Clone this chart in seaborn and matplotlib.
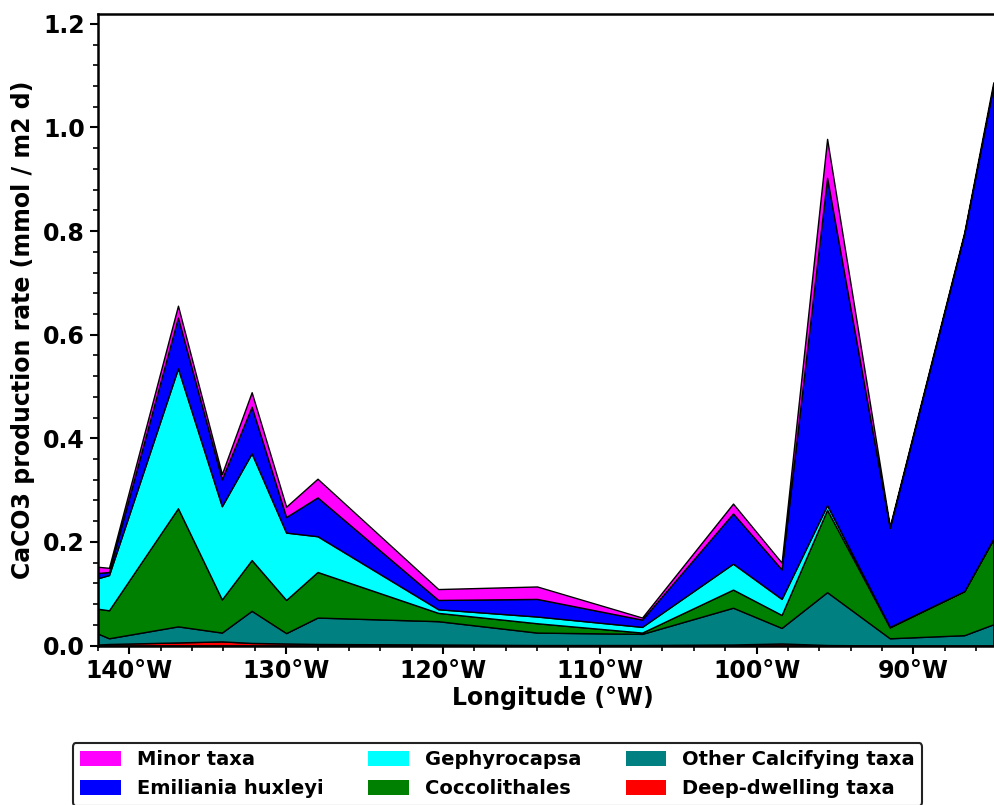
import numpy as np
import pandas as pd
import matplotlib
matplotlib.use("Agg")
import matplotlib.pyplot as plt
from matplotlib.ticker import MultipleLocator, FuncFormatter, AutoMinorLocator
import seaborn as sns

# Station longitudes (degrees east, negative = west)
longitude = [-142.0, -141.3, -136.9, -134.1, -132.2, -130.0, -128.0, -120.3,
             -114.0, -107.3, -101.5, -98.4, -95.5, -91.5, -86.75, -84.9]

# CaCO3 production per group (mmol / m2 d), stacked bottom to top
deep_dwelling = [0.002, 0.003, 0.006, 0.008, 0.005, 0.004, 0.003, 0.002,
                 0.001, 0.001, 0.002, 0.004, 0.001, 0.000, 0.000, 0.000]
other_calcifying = [0.021, 0.011, 0.031, 0.017, 0.062, 0.020, 0.051, 0.045,
                    0.024, 0.0215, 0.071, 0.030, 0.102, 0.014, 0.020, 0.041]
coccolithales = [0.048, 0.054, 0.228, 0.064, 0.098, 0.064, 0.088, 0.016,
                 0.018, 0.0025, 0.035, 0.025, 0.159, 0.021, 0.085, 0.164]
gephyrocapsa = [0.059, 0.068, 0.270, 0.180, 0.206, 0.130, 0.069, 0.007,
                0.013, 0.011, 0.050, 0.031, 0.009, 0.001, 0.000, 0.001]
emiliania = [0.010, 0.006, 0.098, 0.052, 0.090, 0.030, 0.075, 0.018,
             0.034, 0.014, 0.097, 0.057, 0.632, 0.191, 0.690, 0.874]
minor_taxa = [0.012, 0.008, 0.023, 0.010, 0.028, 0.020, 0.036, 0.021,
              0.024, 0.004, 0.019, 0.013, 0.075, 0.003, 0.003, 0.007]

groups = ["Deep-dwelling taxa", "Other Calcifying taxa", "Coccolithales",
          "Gephyrocapsa", "Emiliania huxleyi", "Minor taxa"]
colors = ["#ff0000", "#008080", "#008000", "#00ffff", "#0000ff", "#ff00ff"]

df = pd.DataFrame({
    "lon": longitude,
    groups[0]: deep_dwelling,
    groups[1]: other_calcifying,
    groups[2]: coccolithales,
    groups[3]: gephyrocapsa,
    groups[4]: emiliania,
    groups[5]: minor_taxa,
})

sns.set_theme(style="ticks")
plt.rcParams["font.family"] = ["DejaVu Sans"]
plt.rcParams["font.weight"] = "bold"
plt.rcParams["text.color"] = "black"
plt.rcParams["axes.labelcolor"] = "black"
plt.rcParams["xtick.color"] = "black"
plt.rcParams["ytick.color"] = "black"

fig = plt.figure(figsize=(9.94, 8.05), dpi=100)
ax = fig.add_axes([0.0986, 0.1981, 0.9149, 0.7845])

polys = ax.stackplot(df["lon"], *[df[g] for g in groups], colors=colors,
                     labels=groups, edgecolor="black", linewidth=1.0)

ax.set_xlim(-142, -84)
ax.set_ylim(0, 1.219)

ax.xaxis.set_major_locator(MultipleLocator(10))
ax.xaxis.set_minor_locator(MultipleLocator(2))
ax.xaxis.set_major_formatter(FuncFormatter(lambda v, p: f"{abs(int(round(v)))}°W"))
ax.yaxis.set_major_locator(MultipleLocator(0.2))
ax.yaxis.set_minor_locator(AutoMinorLocator(5))
ax.yaxis.set_major_formatter(FuncFormatter(lambda v, p: f"{v:.1f}"))

ax.tick_params(axis="both", which="major", direction="out", length=6,
               width=1.5, labelsize=17, colors="black")
ax.tick_params(axis="both", which="minor", direction="out", length=3.5,
               width=1.2, colors="black")
for lab in ax.get_xticklabels() + ax.get_yticklabels():
    lab.set_fontweight("bold")

for side in ["left", "bottom", "top"]:
    ax.spines[side].set_visible(True)
    ax.spines[side].set_linewidth(1.8)
    ax.spines[side].set_color("black")
ax.spines["right"].set_visible(False)

ax.set_xlabel("Longitude (°W)", fontsize=17, fontweight="bold", labelpad=2,
              color="black")
ax.set_ylabel("CaCO3 production rate (mmol / m2 d)", fontsize=17,
              fontweight="bold", labelpad=6, color="black")

handles, labels = ax.get_legend_handles_labels()
order = [5, 4, 3, 2, 1, 0]
leg = fig.legend([handles[i] for i in order], [labels[i] for i in order],
                 loc="upper center", bbox_to_anchor=(0.5005, 0.0775),
                 bbox_transform=fig.transFigure, ncol=3, frameon=True,
                 prop={"size": 14, "weight": "bold"}, columnspacing=2.3,
                 handlelength=2.1, handleheight=0.8, handletextpad=0.8,
                 fancybox=True, framealpha=1.0, borderaxespad=0.0,
                 labelcolor="black")
leg.get_frame().set_edgecolor("#222222")
leg.get_frame().set_linewidth(1.5)
for h in leg.legend_handles:
    h.set_edgecolor("none")

fig.savefig("out.png", dpi=100)
